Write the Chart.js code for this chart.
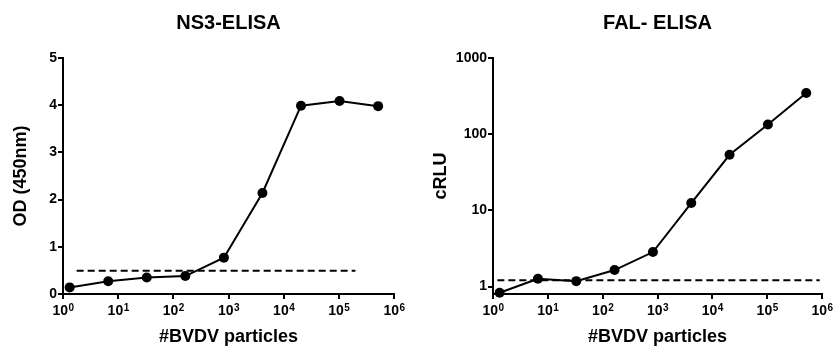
<!DOCTYPE html>
<html>
<head>
<meta charset="utf-8">
<script src="https://cdn.jsdelivr.net/npm/chart.js@4.4.1/dist/chart.umd.min.js"></script>
<style>
  body { margin: 0; background: #fff; }
  #wrap { position: relative; width: 835px; height: 349px; }
  canvas { position: absolute; top: 0; }
</style>
</head>
<body>
<div id="wrap">
  <canvas id="graficoNS3" width="417" height="349" style="left:0"></canvas>
  <canvas id="graficoFAL" width="418" height="349" style="left:417px"></canvas>
</div>
<script>
// Particulas BVDV por pocillo (eje x, log)
const particulas = [1.32, 6.6, 33, 165, 825, 4125, 20625, 103125, 515625];
// NS3-ELISA: densidad optica a 450nm
const odNS3 = [0.14, 0.27, 0.35, 0.38, 0.77, 2.14, 3.99, 4.09, 3.98];
// FAL-ELISA: cRLU
const crluFAL = [0.83, 1.27, 1.18, 1.65, 2.84, 12.5, 53.7, 134, 348];
// lineas de corte (x inicio, x fin, valor)
const corteNS3X = [1.77, 200000];
const corteNS3 = 0.49;
const corteFALX = [1.2, 910000];
const corteFAL = 1.21;
// ticks
const ticksX = [1, 10, 100, 1000, 10000, 100000, 1000000];
const ticksNS3 = [0, 1, 2, 3, 4, 5];
const ticksFAL = [1, 10, 100, 1000];

const fuente = "'Liberation Sans', Arial, sans-serif";

// Dibuja las etiquetas del eje x como 10 con exponente en superindice
const pluginExponentes = {
    id: "exponentes",
    afterDraw(chart) {
        const s = chart.scales.x;
        const ctx = chart.ctx;
        ctx.save();
        ctx.fillStyle = "#000";
        ctx.textBaseline = "alphabetic";
        ctx.textAlign = "left";
        ticksX.forEach(v => {
            const exp = String(Math.round(Math.log10(v)));
            const px = s.getPixelForValue(v);
            ctx.font = `bold 14px ${fuente}`;
            const wBase = ctx.measureText("10").width;
            ctx.font = `bold 10px ${fuente}`;
            const wExp = ctx.measureText(exp).width;
            const x0 = px - (wBase + wExp) / 2;
            ctx.font = `bold 14px ${fuente}`;
            ctx.fillText("10", x0, s.top + 21);
            ctx.font = `bold 10px ${fuente}`;
            ctx.fillText(exp, x0 + wBase + 0.5, s.top + 17.3);
        });
        ctx.restore();
    }
};

function crearGrafico(id, titulo, valores, corteX, corte, tituloY, escalaY, anchoY, padDer, padTituloY) {
    new Chart(document.getElementById(id), {
        type: "line",
        data: {
            datasets: [{
                data: particulas.map((x, i) => ({ x, y: valores[i] })),
                borderColor: "#000",
                backgroundColor: "#000",
                borderWidth: 2,
                pointRadius: 5,
                pointBorderWidth: 0,
                tension: 0,
                clip: false
            }, {
                data: corteX.map(x => ({ x, y: corte })),
                borderColor: "#000",
                borderWidth: 2,
                borderDash: [7, 4],
                pointRadius: 0,
                clip: false
            }]
        },
        plugins: [pluginExponentes],
        options: {
            responsive: false,
            animation: false,
            events: [],
            layout: { padding: { left: 0, right: padDer, top: 0, bottom: 0 } },
            plugins: {
                legend: { display: false },
                tooltip: { enabled: false },
                title: {
                    display: true,
                    text: titulo,
                    fullSize: false,
                    color: "#000",
                    font: { family: fuente, size: 20, weight: "bold" },
                    padding: { top: 11, bottom: 23 }
                }
            },
            scales: {
                x: {
                    type: "logarithmic",
                    min: 1,
                    max: 1000000,
                    afterBuildTicks: s => { s.ticks = ticksX.map(v => ({ value: v })); },
                    afterFit: s => { s.height = 55; },
                    ticks: { display: false, autoSkip: false },
                    grid: { display: true, drawOnChartArea: false, drawTicks: true, tickLength: 5, lineWidth: 2, color: "#000" },
                    border: { display: true, width: 2, color: "#000" },
                    title: {
                        display: true,
                        text: "#BVDV particles",
                        color: "#000",
                        font: { family: fuente, size: 18, weight: "bold" },
                        padding: { top: 0, bottom: 1 }
                    }
                },
                y: Object.assign({
                    afterFit: s => { s.width = anchoY; },
                    ticks: {
                        color: "#000",
                        font: { family: fuente, size: 14, weight: "bold" },
                        padding: 1,
                        autoSkip: false,
                        callback: v => String(v)
                    },
                    grid: { display: true, drawOnChartArea: false, drawTicks: true, tickLength: 5, lineWidth: 2, color: "#000" },
                    border: { display: true, width: 2, color: "#000" },
                    title: {
                        display: true,
                        text: tituloY,
                        color: "#000",
                        font: { family: fuente, size: 18, weight: "bold" },
                        padding: { top: padTituloY, bottom: 0 }
                    }
                }, escalaY)
            }
        }
    });
}

crearGrafico("graficoNS3", "NS3-ELISA", odNS3, corteNS3X, corteNS3, "OD (450nm)", {
    type: "linear", min: 0, max: 5,
    afterBuildTicks: s => { s.ticks = ticksNS3.map(v => ({ value: v })); }
}, 63, 23, 10);

crearGrafico("graficoFAL", "FAL- ELISA", crluFAL, corteFALX, corteFAL, "cRLU", {
    type: "logarithmic", min: 0.8, max: 1000,
    afterBuildTicks: s => { s.ticks = ticksFAL.map(v => ({ value: v })); }
}, 76, 13, 13);
</script>
</body>
</html>
